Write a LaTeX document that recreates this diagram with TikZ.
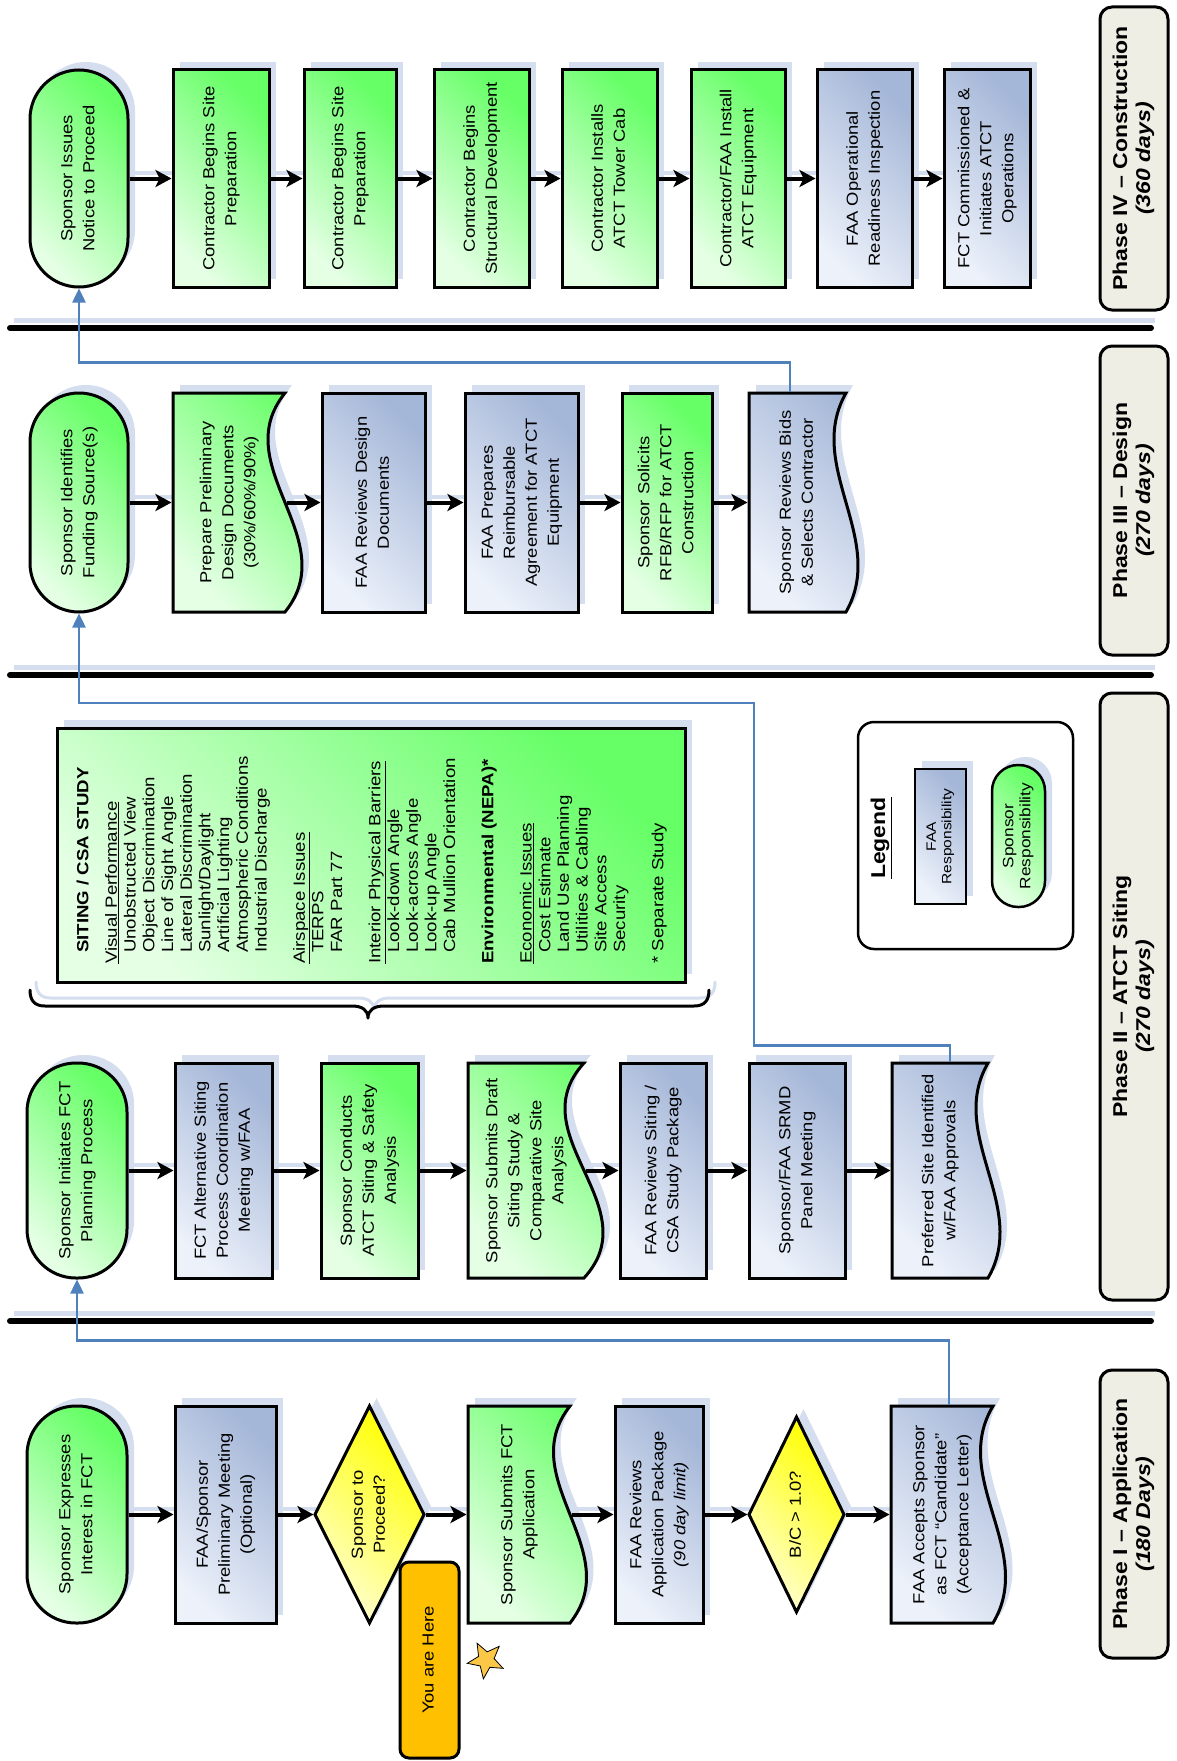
\documentclass[tikz,border=0pt]{standalone}
\usepackage{fontspec}
\setmainfont{Liberation Sans}[FakeStretch=1.15]
\usepackage{graphicx}
\usetikzlibrary{arrows.meta,shapes.geometric,shadows,calc}
\definecolor{gA}{RGB}{102,255,102}
\definecolor{gL}{RGB}{228,255,228}
\definecolor{fA}{RGB}{165,183,216}
\definecolor{fL}{RGB}{236,241,250}
\definecolor{yA}{RGB}{255,255,0}
\definecolor{yL}{RGB}{255,255,205}
\definecolor{shadowc}{RGB}{212,222,238}
\definecolor{labelc}{RGB}{238,238,229}
\definecolor{conblue}{RGB}{79,129,189}
\definecolor{orangec}{RGB}{255,192,0}
\definecolor{starc}{RGB}{250,200,70}
\pgfdeclarelayer{bg}
\pgfsetlayers{bg,main}
\newcommand\rtx[1]{\rotatebox{90}{\begin{tabular}{@{}c@{}}#1\end{tabular}}}
\newcommand\docshape[6]{%
 \pgfmathsetmacro\dsk{3.464*#6}%
 \pgfmathsetmacro\dsya{#3+(#5-#3)/3}%
 \pgfmathsetmacro\dsyb{#3+2*(#5-#3)/3}%
 \pgfmathsetmacro\dsxl{#4-\dsk}%
 \pgfmathsetmacro\dsxr{#4+\dsk}%
 \path[#1] (#2,#3) -- (#4,#3) .. controls (\dsxl,\dsya) and (\dsxr,\dsyb) .. (#4,#5) -- (#2,#5) -- cycle;}
\newcommand\diashape[5]{%
 \path[#1] ({(#2+#4)/2},#3) -- (#4,{(#3+#5)/2}) -- ({(#2+#4)/2},#5) -- (#2,{(#3+#5)/2}) -- cycle;}
\tikzset{
 shad/.style={general shadow={fill=shadowc, shadow xshift=7pt, shadow yshift=8pt}},
 gshade/.style={top color=gA, bottom color=gL, shading angle=-45},
 fshade/.style={top color=fA, bottom color=fL, shading angle=-45},
 yshade/.style={top color=yA, bottom color=yL, shading angle=-45},
 bord/.style={draw=black, line width=3pt},
 nfont/.style={font=\fontsize{16}{22}\selectfont},
 sponsor/.style={bord, shad, gshade, rounded corners=49pt, nfont, inner sep=0pt},
 faa/.style={bord, shad, fshade, nfont, inner sep=0pt},
 grn/.style={bord, shad, gshade, nfont, inner sep=0pt},
 txt/.style={line width=3pt, nfont, inner sep=0pt},
 docg/.style={bord, shad, gshade},
 docf/.style={bord, shad, fshade},
 dia/.style={bord, shad, yshade, line join=miter},
 phase/.style={bord, fill=labelc, rounded corners=12pt, font=\fontsize{20}{23}\selectfont\bfseries, inner sep=0pt},
 flow/.style={line width=4pt, -{Stealth[length=16pt,width=17pt,inset=4pt]}},
 flowsh/.style={line width=4pt, draw=shadowc},
 bluecon/.style={draw=conblue, line width=2.5pt, -{Triangle[length=14pt,width=13pt]}}
}
\newcommand\fl[2]{%
 \begin{pgfonlayer}{bg}\draw[flowsh] ([shift={(4,-6)}]#1.east) -- ([shift={(8,-6)}]#2.west);\end{pgfonlayer}%
 \draw[flow] (#1.east) -- (#2.west);}
\begin{document}
\begin{tikzpicture}[x=1pt,y=-1pt]
\useasboundingbox (0,0) rectangle (1177,1761);
\begin{pgfonlayer}{bg}
\fill[white] (0,0) rectangle (1177,1761);
\end{pgfonlayer}

% dividers
\foreach \yy in {328,675,1321}{
 \draw[line width=5pt, shadowc] (14,{\yy-8}) -- (1155,{\yy-8});
 \draw[line width=6pt, line cap=round] (10,\yy) -- (1151,\yy);
}

% ---------------- Phase IV ----------------
\node[sponsor, minimum width=98pt, minimum height=217pt] (d1) at (79,178.5) {\rtx{Sponsor Issues\\Notice to Proceed}};
\node[grn, minimum width=96pt, minimum height=217pt] (d2) at (221,178.5) {\rtx{Contractor Begins Site\\Preparation}};
\node[grn, minimum width=92pt, minimum height=217pt] (d3) at (350,178.5) {\rtx{Contractor Begins Site\\Preparation}};
\node[grn, minimum width=95pt, minimum height=217pt] (d4) at (481.5,178.5) {\rtx{Contractor Begins\\Structural Development}};
\node[grn, minimum width=95pt, minimum height=217pt] (d5) at (609.5,178.5) {\rtx{Contractor Installs\\ATCT Tower Cab}};
\node[grn, minimum width=94pt, minimum height=217pt] (d6) at (738,178.5) {\rtx{Contractor/FAA Install\\ATCT Equipment}};
\node[faa, minimum width=95pt, minimum height=217pt] (d7) at (864.5,178.5) {\rtx{FAA Operational\\Readiness Inspection}};
\node[faa, minimum width=86pt, minimum height=217pt] (d8) at (987,178.5) {\rtx{FCT Commissioned \&\\Initiates ATCT\\Operations}};
\node[phase, minimum width=68pt, minimum height=303pt] (ph4) at (1134,158.5) {\rtx{Phase IV – Construction\\\textit{(360 days)}}};
\fl{d1}{d2}\fl{d2}{d3}\fl{d3}{d4}\fl{d4}{d5}\fl{d5}{d6}\fl{d6}{d7}\fl{d7}{d8}

% ---------------- Phase III ----------------
\node[sponsor, minimum width=98pt, minimum height=219pt] (c1) at (79,502.5) {\rtx{Sponsor Identifies\\Funding Source(s)}};
\docshape{docg}{173}{393}{285}{612}{17}
\node[txt, minimum width=112pt, minimum height=219pt] (c2) at (229,502.5) {\rtx{Prepare Preliminary\\Design Documents\\(30\%/60\%/90\%)}};
\node[faa, minimum width=103pt, minimum height=219pt] (c3) at (373.5,502.5) {\rtx{FAA Reviews Design\\Documents}};
\node[faa, minimum width=113pt, minimum height=219pt] (c4) at (521.5,502.5) {\rtx{FAA Prepares\\Reimbursable\\Agreement for ATCT\\Equipment}};
\node[grn, minimum width=90pt, minimum height=219pt] (c5) at (667,502.5) {\rtx{Sponsor Solicits\\RFB/RFP for ATCT\\Construction}};
\docshape{docf}{749}{393}{846}{612}{12}
\node[txt, minimum width=97pt, minimum height=219pt] (c6) at (797.5,502.5) {\rtx{Sponsor Reviews Bids\\\& Selects Contractor}};
\node[phase, minimum width=68pt, minimum height=309pt] (ph3) at (1134,500.5) {\rtx{Phase III – Design\\\textit{(270 days)}}};
\fl{c1}{c2}\fl{c2}{c3}\fl{c3}{c4}\fl{c4}{c5}\fl{c5}{c6}

% ---------------- Phase II ----------------
\node[grn, minimum width=628pt, minimum height=254pt] (csa) at (371,855) {};
\node[anchor=south west, inner sep=0pt, font=\fontsize{16.2}{18.7}\selectfont] (csat) at (75,964) {\rotatebox{90}{\begin{tabular}{@{}l@{}}
\hspace*{11pt}\textbf{SITING / CSA STUDY}\\[10pt]
\underline{Visual Performance}\\
\hspace*{11pt}Unobstructed View\\
\hspace*{11pt}Object Discrimination\\
\hspace*{11pt}Line of Sight Angle\\
\hspace*{11pt}Lateral Discrimination\\
\hspace*{11pt}Sunlight/Daylight\\
\hspace*{11pt}Artificial Lighting\\
\hspace*{11pt}Atmospheric Conditions\\
\hspace*{11pt}Industrial Discharge\\[19.5pt]
\underline{Airspace Issues}\\
\hspace*{11pt}TERPS\\
\hspace*{11pt}FAR Part 77\\[19.5pt]
\underline{Interior Physical Barriers}\\
\hspace*{11pt}Look-down Angle\\
\hspace*{11pt}Look-across Angle\\
\hspace*{11pt}Look-up Angle\\
\hspace*{11pt}Cab Mullion Orientation\\[19.5pt]
\textbf{Environmental (NEPA)*}\\[19.5pt]
\underline{Economic Issues}\\
\hspace*{11pt}Cost Estimate\\
\hspace*{11pt}Land Use Planning\\
\hspace*{11pt}Utilities \& Cabling\\
\hspace*{11pt}Site Access\\
\hspace*{11pt}Security\\[19.5pt]
{*} Separate Study
\end{tabular}}};
% brace
\begin{pgfonlayer}{bg}
\draw[line width=3pt, shadowc, line cap=round] (36,982) .. controls (36,992) and (40,998) .. (51,998) -- (358,998) .. controls (368,998) and (374,1002) .. (374,1010) .. controls (374,1002) and (380,998) .. (390,998) -- (700,998) .. controls (711,998) and (715,992) .. (715,982);
\end{pgfonlayer}
\draw[line width=3pt, line cap=round, line join=round] (30,990) .. controls (30,1000) and (34,1006) .. (45,1006) -- (352,1006) .. controls (362,1006) and (368,1010) .. (368,1018) .. controls (368,1010) and (374,1006) .. (384,1006) -- (694,1006) .. controls (705,1006) and (709,1000) .. (709,990);

\node[sponsor, minimum width=100pt, minimum height=215pt] (b1) at (77,1170.5) {\rtx{Sponsor Initiates FCT\\Planning Process}};
\node[faa, minimum width=97pt, minimum height=215pt] (b2) at (223.5,1170.5) {\rtx{FCT Alternative Siting\\Process Coordination\\Meeting w/FAA}};
\node[grn, minimum width=97pt, minimum height=215pt] (b3) at (369.5,1170.5) {\rtx{Sponsor Conducts\\ATCT Siting \& Safety\\Analysis}};
\docshape{docg}{468}{1063}{584}{1278}{19}
\node[txt, minimum width=116pt, minimum height=215pt] (b4) at (526,1170.5) {\rtx{Sponsor Submits Draft\\Siting Study \&\\Comparative Site\\Analysis}};
\node[faa, minimum width=86pt, minimum height=215pt] (b5) at (663,1170.5) {\rtx{FAA Reviews Siting /\\CSA Study Package}};
\node[faa, minimum width=96pt, minimum height=215pt] (b6) at (797,1170.5) {\rtx{Sponsor/FAA SRMD\\Panel Meeting}};
\docshape{docf}{892}{1063}{988}{1278}{12}
\node[txt, minimum width=96pt, minimum height=215pt] (b7) at (940,1170.5) {\rtx{Preferred Site Identified\\w/FAA Approvals}};
\fl{b1}{b2}\fl{b2}{b3}\fl{b3}{b4}\fl{b4}{b5}\fl{b5}{b6}\fl{b6}{b7}

% legend
\node[draw, line width=2.5pt, rounded corners=16pt, fill=white, minimum width=215pt, minimum height=227pt] (leg) at (965.5,835.5) {};
\node[font=\fontsize{20}{23}\selectfont\bfseries, inner sep=0pt] (legt) at (881,838) {\rotatebox{90}{\underline{Legend}}};
\node[faa, line width=2.5pt, minimum width=51pt, minimum height=135pt, font=\fontsize{13.5}{15.5}\selectfont] (legf) at (940.5,836.5) {\rtx{FAA\\Responsibility}};
\node[sponsor, line width=2.5pt, rounded corners=26pt, minimum width=53pt, minimum height=142pt, font=\fontsize{15}{17}\selectfont] (legs) at (1018.5,836) {\rtx{Sponsor\\Responsibility}};
\node[phase, minimum width=68pt, minimum height=607pt] (ph2) at (1134,996.5) {\rtx{Phase II – ATCT Siting\\\textit{(270 days)}}};

% ---------------- Phase I ----------------
\node[sponsor, minimum width=100pt, minimum height=217pt] (a1) at (77,1514.5) {\rtx{Sponsor Expresses\\Interest in FCT}};
\node[faa, minimum width=101pt, minimum height=217pt] (a2) at (225.5,1514.5) {\rtx{FAA/Sponsor\\Preliminary Meeting\\(Optional)}};
\diashape{dia}{315}{1406}{424}{1623}
\node[txt, minimum width=109pt, minimum height=217pt] (a3) at (369.5,1514.5) {\rtx{Sponsor to\\Proceed?}};
\docshape{docg}{468}{1406}{570}{1623}{16.5}
\node[txt, minimum width=102pt, minimum height=217pt] (a4) at (519,1514.5) {\rtx{Sponsor Submits FCT\\Application}};
\node[faa, minimum width=88pt, minimum height=217pt] (a5) at (659,1514.5) {\rtx{FAA Reviews\\Application Package\\\textit{(90 day limit)}}};
\diashape{dia}{749}{1417}{844}{1612}
\node[txt, minimum width=95pt, minimum height=195pt] (a6) at (796.5,1514.5) {\rtx{B/C > 1.0?}};
\docshape{docf}{891}{1406}{993}{1623}{12.5}
\node[txt, minimum width=102pt, minimum height=217pt] (a7) at (942,1514.5) {\rtx{FAA Accepts Sponsor\\as FCT “Candidate”\\(Acceptance Letter)}};
\node[phase, minimum width=68pt, minimum height=288pt] (ph1) at (1134,1514) {\rtx{Phase I – Application\\\textit{(180 Days)}}};
\fl{a1}{a2}\fl{a2}{a3}\fl{a3}{a4}\fl{a4}{a5}\fl{a5}{a6}\fl{a6}{a7}

\node[draw, line width=3pt, fill=orangec, rounded corners=9pt, minimum width=59pt, minimum height=196pt, font=\fontsize{16}{20}\selectfont, inner sep=0pt] (here) at (429.5,1660) {\rtx{You are Here}};
\node[star, star points=5, star point ratio=2.3, draw, line width=0.8pt, fill=starc, minimum size=38pt, inner sep=0pt, rotate=100] (star) at (486,1660) {};

% blue connectors
\coordinate (j1) at (754,703);
\draw[bluecon] ([xshift=7pt]a7.north) -- ++(0,-64) -| (b1.south);
\draw[bluecon] ([xshift=10pt]b7.north) -- ++(0,-16) -| (j1) -| (c1.south);
\draw[bluecon] ([xshift=-7.5pt]c6.north) -- ++(0,-29) -| (d1.south);
\end{tikzpicture}
\end{document}
